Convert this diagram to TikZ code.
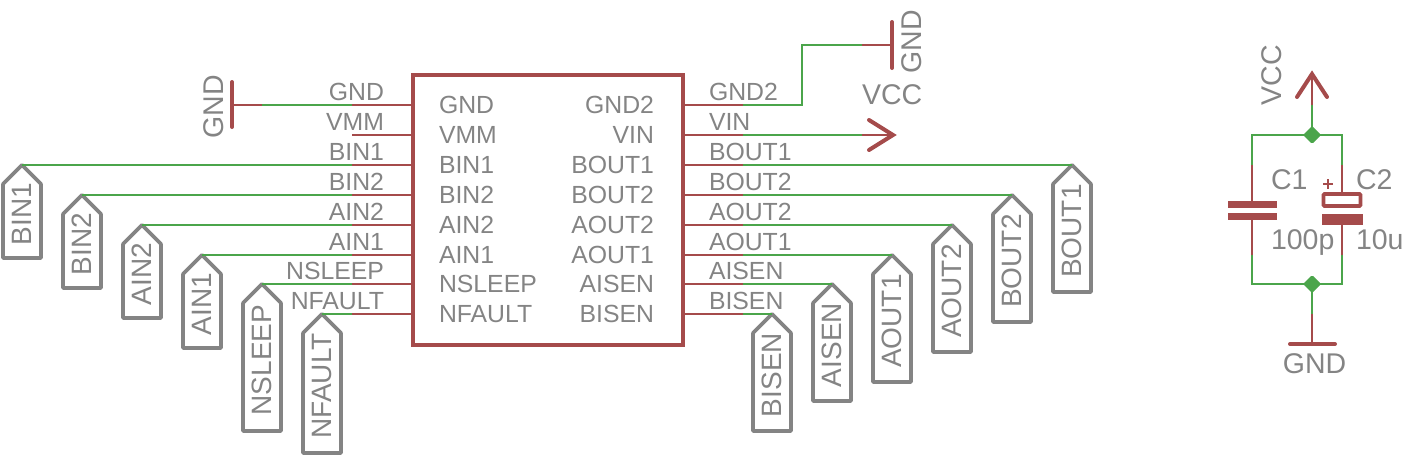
\documentclass[tikz,border=0pt]{standalone}
\usepackage{fontspec}
\setmainfont{Liberation Sans}
\usetikzlibrary{shapes.symbols,shapes.geometric}
\definecolor{symred}{HTML}{A54B4B}
\definecolor{netgreen}{HTML}{4BA54B}
\definecolor{labgray}{HTML}{848484}
\tikzset{
  schtext/.style={text=labgray,font=\fontsize{24.8}{28}\selectfont,inner sep=0pt,outer sep=0pt,yshift=-0.7pt},
  bigtext/.style={text=labgray,font=\fontsize{28.5}{31}\selectfont,inner sep=0pt,outer sep=0pt},
  pinleft/.style={schtext,anchor=base east},
  pinright/.style={schtext,anchor=base west},
  inleft/.style={schtext,anchor=base west},
  inright/.style={schtext,anchor=base east},
  icbox/.style={draw=symred,line width=4pt,minimum width=270pt,minimum height=270pt,inner sep=0pt,outer sep=0pt},
  flagbox/.style={signal,signal to=east,signal pointer angle=90,draw=labgray,line width=3.6pt,line join=round,
    minimum height=38pt,inner sep=0pt,outer sep=0pt,anchor=east,rotate=90,text=labgray,font=\fontsize{28}{31}\selectfont,
    execute at end node=\hspace*{-14pt}},
  pinline/.style={draw=symred,line width=2.6pt},
  wire/.style={draw=netgreen,line width=2.6pt},
  bar/.style={draw=symred,line width=4pt,line cap=round},
  plate/.style={fill=symred,draw=none,inner sep=0pt,outer sep=0pt},
  junction/.style={diamond,fill=netgreen,inner sep=0pt,outer sep=0pt,minimum size=18pt,rounded corners=1.5pt}
}
\begin{document}
\begin{tikzpicture}[x=1pt,y=-1pt]
\useasboundingbox (0,0) rectangle (1414,459);
\node[icbox] (ic) at (547.5,210) {};
% pin ends, left side
\coordinate (pGND) at (352,105);
\coordinate (pVMM) at (352,135);
\coordinate (pBINa) at (352,165);
\coordinate (pBINb) at (352,195);
\coordinate (pAINb) at (352,225);
\coordinate (pAINa) at (352,255);
\coordinate (pNSLEEP) at (352,284);
\coordinate (pNFAULT) at (352,314);
% pin ends, right side
\coordinate (pGNDb) at (743,105);
\coordinate (pVIN) at (743,135);
\coordinate (pBOUTa) at (743,165);
\coordinate (pBOUTb) at (743,195);
\coordinate (pAOUTb) at (743,225);
\coordinate (pAOUTa) at (743,255);
\coordinate (pAISEN) at (743,284);
\coordinate (pBISEN) at (743,314);
\path[pinline] (pGND) -- (pGND -| ic.west);
\path[pinline] (pVMM) -- (pVMM -| ic.west);
\path[pinline] (pBINa) -- (pBINa -| ic.west);
\path[pinline] (pBINb) -- (pBINb -| ic.west);
\path[pinline] (pAINb) -- (pAINb -| ic.west);
\path[pinline] (pAINa) -- (pAINa -| ic.west);
\path[pinline] (pNSLEEP) -- (pNSLEEP -| ic.west);
\path[pinline] (pNFAULT) -- (pNFAULT -| ic.west);
\path[pinline] (pGNDb) -- (pGNDb -| ic.east);
\path[pinline] (pVIN) -- (pVIN -| ic.east);
\path[pinline] (pBOUTa) -- (pBOUTa -| ic.east);
\path[pinline] (pBOUTb) -- (pBOUTb -| ic.east);
\path[pinline] (pAOUTb) -- (pAOUTb -| ic.east);
\path[pinline] (pAOUTa) -- (pAOUTa -| ic.east);
\path[pinline] (pAISEN) -- (pAISEN -| ic.east);
\path[pinline] (pBISEN) -- (pBISEN -| ic.east);
% pin names outside the box
\node[pinleft] (oGND) at (384,100) {GND};
\node[pinleft] (oVMM) at (384,130) {VMM};
\node[pinleft] (oBINa) at (384,160) {BIN1};
\node[pinleft] (oBINb) at (384,190) {BIN2};
\node[pinleft] (oAINb) at (384,220) {AIN2};
\node[pinleft] (oAINa) at (384,250) {AIN1};
\node[pinleft] (oNSLEEP) at (384,279) {NSLEEP};
\node[pinleft] (oNFAULT) at (384,309) {NFAULT};
\node[pinright] (oGNDb) at (709,100) {GND2};
\node[pinright] (oVIN) at (709,130) {VIN};
\node[pinright] (oBOUTa) at (709,160) {BOUT1};
\node[pinright] (oBOUTb) at (709,190) {BOUT2};
\node[pinright] (oAOUTb) at (709,220) {AOUT2};
\node[pinright] (oAOUTa) at (709,250) {AOUT1};
\node[pinright] (oAISEN) at (709,279) {AISEN};
\node[pinright] (oBISEN) at (709,309) {BISEN};
% pin names inside the box
\node[inleft] (iGND) at (439,113) {GND};
\node[inleft] (iVMM) at (439,143) {VMM};
\node[inleft] (iBINa) at (439,173) {BIN1};
\node[inleft] (iBINb) at (439,203) {BIN2};
\node[inleft] (iAINb) at (439,233) {AIN2};
\node[inleft] (iAINa) at (439,263) {AIN1};
\node[inleft] (iNSLEEP) at (439,292) {NSLEEP};
\node[inleft] (iNFAULT) at (439,322) {NFAULT};
\node[inright] (iGNDb) at (654,113) {GND2};
\node[inright] (iVIN) at (654,143) {VIN};
\node[inright] (iBOUTa) at (654,173) {BOUT1};
\node[inright] (iBOUTb) at (654,203) {BOUT2};
\node[inright] (iAOUTb) at (654,233) {AOUT2};
\node[inright] (iAOUTa) at (654,263) {AOUT1};
\node[inright] (iAISEN) at (654,292) {AISEN};
\node[inright] (iBISEN) at (654,322) {BISEN};
% flags
\node[flagbox,minimum width=93pt] (fBINa) at (22,165) {BIN1};
\node[flagbox,minimum width=93pt] (fBINb) at (82,195) {BIN2};
\node[flagbox,minimum width=93pt] (fAINb) at (142,225) {AIN2};
\node[flagbox,minimum width=93pt] (fAINa) at (202,255) {AIN1};
\node[flagbox,minimum width=147pt] (fNSLEEP) at (262,284) {NSLEEP};
\node[flagbox,minimum width=139pt] (fNFAULT) at (322,314) {NFAULT};
\node[flagbox,minimum width=127pt] (fBOUTa) at (1072,165) {BOUT1};
\node[flagbox,minimum width=127pt] (fBOUTb) at (1012,195) {BOUT2};
\node[flagbox,minimum width=127pt] (fAOUTb) at (952,225) {AOUT2};
\node[flagbox,minimum width=127pt] (fAOUTa) at (892,255) {AOUT1};
\node[flagbox,minimum width=117pt] (fAISEN) at (832,284) {AISEN};
\node[flagbox,minimum width=117pt] (fBISEN) at (772,314) {BISEN};
\path[wire] (pBINa) -- (fBINa.east);
\path[wire] (pBINb) -- (fBINb.east);
\path[wire] (pAINb) -- (fAINb.east);
\path[wire] (pAINa) -- (fAINa.east);
\path[wire] (pNSLEEP) -- (fNSLEEP.east);
\path[wire] (pNFAULT) -- (fNFAULT.east);
\path[wire] (pBOUTa) -- (fBOUTa.east);
\path[wire] (pBOUTb) -- (fBOUTb.east);
\path[wire] (pAOUTb) -- (fAOUTb.east);
\path[wire] (pAOUTa) -- (fAOUTa.east);
\path[wire] (pAISEN) -- (fAISEN.east);
\path[wire] (pBISEN) -- (fBISEN.east);
% left GND
\coordinate (gndL) at (232,105);
\coordinate (gndLe) at (262,105);
\path[bar] (232,82) -- (232,127);
\path[pinline] (gndL) -- (gndLe);
\path[wire] (gndLe) -- (pGND);
\node[bigtext,rotate=90,anchor=center] (gndLt) at (213.5,107) {GND};
% upper GND
\coordinate (gndR) at (892,45);
\coordinate (gndRe) at (862,45);
\coordinate (gndRk) at (802,45);
\path[bar] (892,22) -- (892,68);
\path[pinline] (gndR) -- (gndRe);
\path[wire] (gndRe) -- (gndRk) -- (pGNDb -| gndRk) -- (pGNDb);
\node[bigtext,rotate=90,anchor=center] (gndRt) at (912,42) {GND};
% VCC arrow at VIN
\coordinate (vccA) at (893,135);
\coordinate (vccAe) at (862,135);
\path[wire] (pVIN) -- (vccAe);
\path[pinline] (vccAe) -- (vccA);
\path[bar,line join=miter] (869,120) -- (vccA) -- (869,150);
\node[bigtext,anchor=base west] (vccAt) at (862,104) {VCC};
% capacitors
\coordinate (vccB) at (1312,74);
\coordinate (vccBe) at (1312,105);
\coordinate (gndB) at (1312,344);
\coordinate (gndBe) at (1312,314);
\coordinate (aT) at (1252,165);
\coordinate (aB) at (1252,255);
\coordinate (bT) at (1342,165);
\coordinate (bB) at (1342,255);
\coordinate (jTc) at (1312,135);
\coordinate (jBc) at (1312,284);
\path[wire] (jTc) -- (vccBe);
\path[pinline] (vccBe) -- (vccB);
\path[bar,line join=miter] (1297,97) -- (vccB) -- (1327,97);
\node[bigtext,rotate=90,anchor=center] (vccBt) at (1272,75) {VCC};
\path[wire] (jBc) -- (gndBe);
\path[pinline] (gndBe) -- (gndB);
\path[bar] (1290,344) -- (1335,344);
\node[bigtext,anchor=base] (gndBt) at (1314.5,373) {GND};
\path[wire] (aT) -- (aT |- jTc) -- (jTc);
\path[wire] (bT) -- (bT |- jTc) -- (jTc);
\path[wire] (aB) -- (aB |- jBc) -- (jBc);
\path[wire] (bB) -- (bB |- jBc) -- (jBc);
\node[junction] (jT) at (jTc) {};
\node[junction] (jB) at (jBc) {};
\node[plate,minimum width=49pt,minimum height=7pt] (c1top) at (1252.5,204.5) {};
\node[plate,minimum width=49pt,minimum height=7pt] (c1bot) at (1252.5,216.5) {};
\path[pinline] (aT) -- (aT |- c1top.north);
\path[pinline] (aB) -- (aB |- c1bot.south);
\node[draw=symred,line width=3.6pt,rounded corners=1pt,minimum width=37pt,minimum height=12pt,inner sep=0pt,outer sep=0pt] (c2top) at (1342,200) {};
\node[plate,minimum width=41pt,minimum height=11pt] (c2bot) at (1342,219.5) {};
\path[pinline] (bT) -- (c2top.north);
\path[pinline] (bB) -- (c2bot.south);
\path[draw=symred,line width=2pt] (1323,184) -- (1333,184) (1328,179) -- (1328,189);
\node[bigtext,anchor=base west] (c1name) at (1271,189) {C1};
\node[bigtext,anchor=base west] (c2name) at (1356,189) {C2};
\node[bigtext,anchor=base west] (c1val) at (1271,249) {100p};
\node[bigtext,anchor=base west] (c2val) at (1356,249) {10u};
\end{tikzpicture}
\end{document}
